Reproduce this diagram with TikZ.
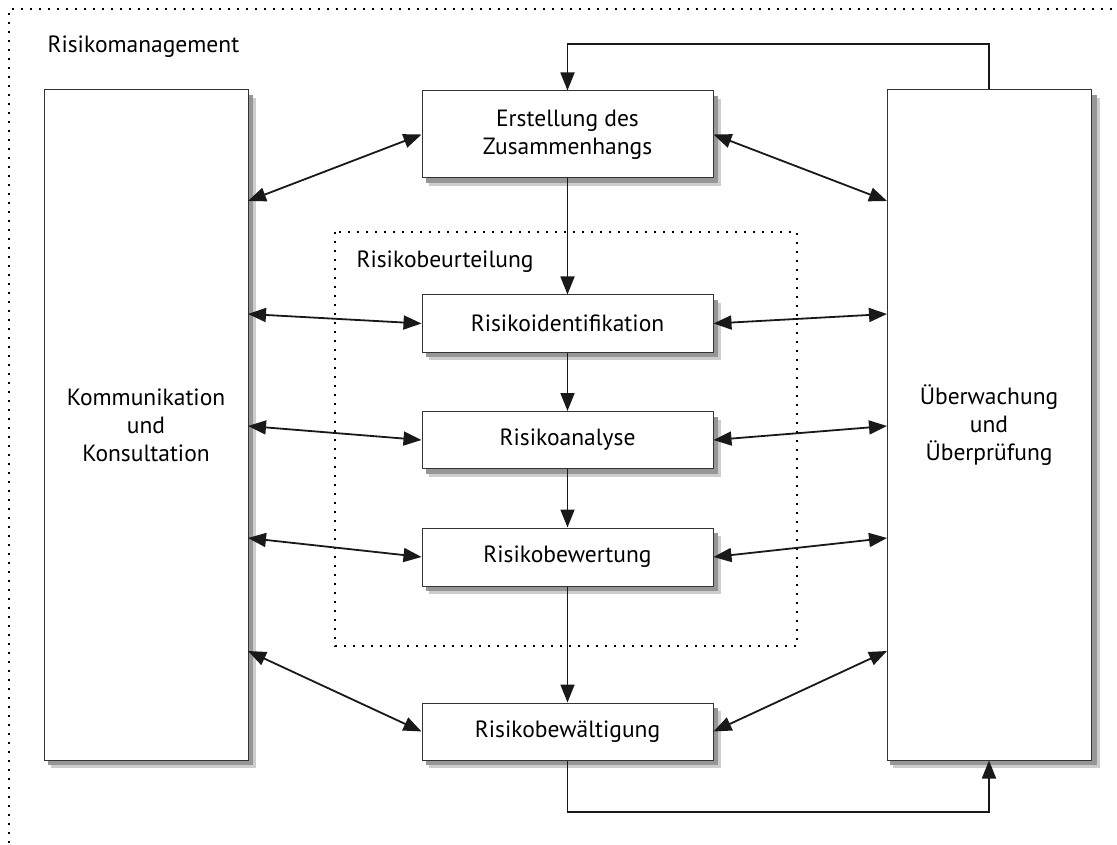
\documentclass[tikz,border=0pt]{standalone}
\usepackage{fontspec}
\setmainfont{PT Sans}
\usetikzlibrary{arrows.meta,calc}
\definecolor{shadowgrey}{RGB}{150,150,150}
\definecolor{shadowlight}{RGB}{205,205,205}
\begin{document}
\begin{tikzpicture}[x=1pt,y=-1pt,
  font=\fontsize{23.5}{28}\selectfont,
  box/.style={draw=black!80,line width=1pt,fill=white,align=center,inner sep=0pt},
  tall/.style={box,minimum width=204pt,minimum height=670pt},
  mid/.style={box,minimum width=291pt,minimum height=57pt},
  conn/.style={line width=1.8pt,black!90},
  one/.style={conn,-{Triangle[length=18pt,width=14pt]}},
  two/.style={conn,{Triangle[length=18pt,width=14pt]}-{Triangle[length=18pt,width=14pt]}},
  dotbox/.style={line width=2.2pt,dash pattern=on 2.2pt off 6.8pt}]
\useasboundingbox (0,0) rectangle (1117,845);
\draw[dotbox] (1130,9) -- (9,9) -- (9,860);
\node[anchor=west] (rm) at (44,47) {Risikomanagement};
\draw[dotbox] (335,232) rectangle (797,646);
\node[anchor=west] (rb) at (353,262) {Risikobeurteilung};
% shadows (drawn before the boxes)
\fill[shadowlight] (51,98) rectangle (256,768);
\fill[shadowgrey] (48,95) rectangle (253,765);
\fill[shadowlight] (893,98) rectangle (1100,768);
\fill[shadowgrey] (890,95) rectangle (1097,765);
\fill[shadowlight] (429,99) rectangle (721,186);
\fill[shadowgrey] (426,96) rectangle (718,183);
\fill[shadowlight] (429,303) rectangle (721,360);
\fill[shadowgrey] (426,300) rectangle (718,357);
\fill[shadowlight] (429,419.5) rectangle (721,476.5);
\fill[shadowgrey] (426,416.5) rectangle (718,473.5);
\fill[shadowlight] (429,536) rectangle (721,594);
\fill[shadowgrey] (426,533) rectangle (718,591);
\fill[shadowlight] (429,711) rectangle (721,768);
\fill[shadowgrey] (426,708) rectangle (718,765);
\node[tall] (komm) at (146,425) {Kommunikation\\und\\Konsultation};
\node[tall] (ueber) at (989,425) {Überwachung\\und\\Überprüfung};
\node[box,minimum width=291pt,minimum height=87pt] (erst) at (567.5,134.5) {Erstellung des\\Zusammenhangs};
\node[mid] (ident) at (567.5,323.5) {Risikoidentifikation};
\node[mid] (anal) at (567.5,440) {Risikoanalyse};
\node[mid,minimum height=58pt] (bew) at (567.5,557) {Risikobewertung};
\node[mid] (bewael) at (567.5,731.5) {Risikobewältigung};
% attachment points on the tall boxes
\coordinate (kl1) at (248,201);
\coordinate (kl2) at (248,314);
\coordinate (kl3) at (248,426);
\coordinate (kl4) at (248,538);
\coordinate (kl5) at (248,651);
\coordinate (ur1) at (887,201);
\coordinate (ur2) at (887,314);
\coordinate (ur3) at (887,426);
\coordinate (ur4) at (887,538);
\coordinate (ur5) at (887,651);
\coordinate (topy) at (0,44);
\coordinate (boty) at (0,812);
% vertical flow
\draw[one] (erst) -- (ident);
\draw[one] (ident) -- (anal);
\draw[one] (anal) -- (bew);
\draw[one] (bew) -- (bewael);
% loops
\draw[one] (ueber.north) -- (ueber.north |- topy) -| (erst.north);
\draw[one] (bewael.south) -- (bewael.south |- boty) -| (ueber.south);
% two-way arrows
\draw[two] (kl1) -- (erst.west);
\draw[two] (kl2) -- (ident.west);
\draw[two] (kl3) -- (anal.west);
\draw[two] (kl4) -- (bew.west);
\draw[two] (kl5) -- (bewael.west);
\draw[two] (erst.east) -- (ur1);
\draw[two] (ident.east) -- (ur2);
\draw[two] (anal.east) -- (ur3);
\draw[two] (bew.east) -- (ur4);
\draw[two] (bewael.east) -- (ur5);
\end{tikzpicture}
\end{document}
